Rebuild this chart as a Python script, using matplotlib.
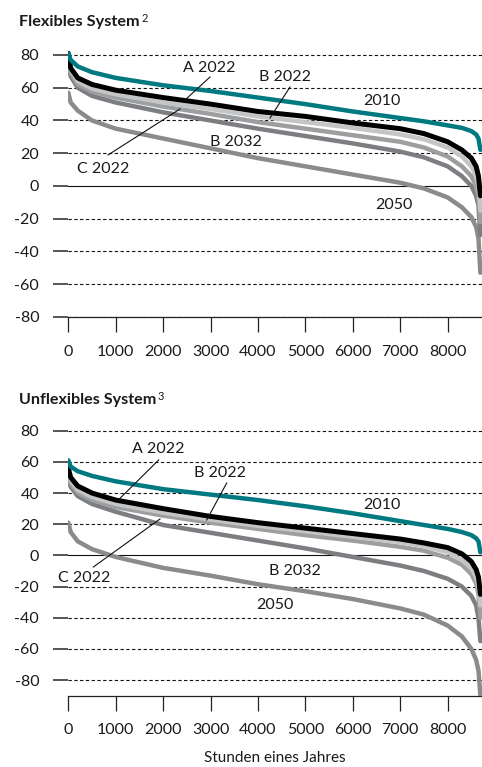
import matplotlib
matplotlib.use("Agg")
import matplotlib.pyplot as plt

plt.rcParams['font.family'] = ['Lato', 'DejaVu Sans']

# ---- data ----
hours = [0, 50, 200, 500, 1000, 2000, 3000, 4000, 5000, 6000, 7000,
         7500, 8000, 8300, 8500, 8600, 8650, 8690]
series_names = ["2050", "B 2032", "C 2022", "B 2022", "A 2022", "2010"]

# Flexibles System
flex_2010 = [81, 77, 73, 69.5, 66, 61.5, 58, 54, 50, 45.5, 41.5, 39.5, 37, 35.5, 33.5, 31.5, 29, 22]
flex_A2022 = [81, 72, 66, 62, 58.5, 54, 50, 45.5, 42.5, 38.5, 35, 32, 27, 22, 17, 12, 6, -6]
flex_B2022 = [79, 71, 64, 59.5, 56, 51, 47, 42.5, 39, 35.5, 31.5, 28.5, 23.5, 18, 12, 6, 0, -15]
flex_C2022 = [78, 69, 62, 57.5, 54, 48.5, 44, 39, 35, 31, 27, 23.5, 18, 12, 6, 0, -6, -22]
flex_B2032 = [77, 67, 60, 55, 51, 45, 40, 35, 30.5, 26, 21, 17.5, 12, 6, 0, -6, -12, -30]
flex_2050 = [57, 51, 46, 40, 35, 29, 23, 17, 12, 7, 2, -1.5, -7, -13, -19, -25, -32, -53]

# Unflexibles System
unflex_2010 = [61, 57, 54, 51, 47.5, 42.5, 39, 35.5, 31.5, 27, 22, 19.5, 17, 15, 13, 11, 9, 2]
unflex_A2022 = [56, 50, 44.5, 40, 35.5, 30, 25, 21, 17.5, 14, 10.5, 8, 5, 1, -4, -9, -14, -25]
unflex_B2022 = [54, 48, 42, 37.5, 33, 27.5, 23, 19, 15.5, 12, 8.5, 6, 2, -3, -8, -14, -20, -32]
unflex_C2022 = [52, 46, 40, 35.5, 31, 25.5, 21, 17, 13, 9.5, 5.5, 3, -1.5, -6, -12, -18, -25, -40]
unflex_B2032 = [50, 44, 38, 33, 28, 19.5, 14.5, 9.5, 4.5, -1, -6.5, -10, -15, -20, -26, -32, -40, -55]
unflex_2050 = [21, 15, 9, 4, -1, -8, -13, -18.5, -23, -28, -34, -38, -45, -52, -60, -67, -74, -90]

yticks = [80, 60, 40, 20, 0, -20, -40, -60, -80]
xticks = [0, 1000, 2000, 3000, 4000, 5000, 6000, 7000, 8000]

colors = {"2010": "#007a80", "A 2022": "#000000", "B 2022": "#c4c5c7",
          "C 2022": "#9c9ea0", "B 2032": "#7d7e81", "2050": "#8a8b8d"}
widths = {"2010": 3.2, "A 2022": 3.6, "B 2022": 3.2, "C 2022": 3.2, "B 2032": 3.2, "2050": 3.2}

W, H = 482, 767
fig = plt.figure(figsize=(W / 100, H / 100), dpi=100)
renderer = fig.canvas.get_renderer()


def px_axes(x0, x1, ytop, ybot):
    return fig.add_axes([x0 / W, 1 - ybot / H, (x1 - x0) / W, (ybot - ytop) / H])


def style_axes(ax, ylim):
    ax.set_xlim(0, 8724)
    ax.set_ylim(*ylim)
    for s in ["top", "right", "left"]:
        ax.spines[s].set_visible(False)
    ax.spines["bottom"].set_color("#222222")
    ax.spines["bottom"].set_linewidth(0.9)
    ax.set_yticks(yticks)
    ax.set_yticklabels([str(v) for v in yticks])
    ax.set_xticks(xticks)
    ax.set_xticklabels([str(v) for v in xticks])
    ax.tick_params(axis="y", length=11, width=1.4, color="#555555", pad=10,
                   labelsize=11.5, labelcolor="#1a1a1a")
    ax.tick_params(axis="x", length=11, width=0.9, color="#222222", pad=9,
                   labelsize=11.5, labelcolor="#1a1a1a")
    for v in yticks:
        if v == 0:
            ax.axhline(0, color="#111111", lw=0.8, zorder=1)
        else:
            ax.axhline(v, color="#111111", lw=0.8, ls=(0, (3.0, 2.2)), zorder=1)


def draw(ax, data):
    for name in series_names:
        ax.plot(hours, data[name], color=colors[name], lw=widths[name],
                solid_capstyle="round", solid_joinstyle="round", zorder=3)


# ---- top panel ----
ax1 = px_axes(68.3, 482, 46.8, 317)
style_axes(ax1, (-80, 85))
draw(ax1, {"2010": flex_2010, "A 2022": flex_A2022, "B 2022": flex_B2022,
           "C 2022": flex_C2022, "B 2032": flex_B2032, "2050": flex_2050})

# ---- bottom panel ----
ax2 = px_axes(68.3, 482, 422.9, 695.7)
style_axes(ax2, (-90, 85))
draw(ax2, {"2010": unflex_2010, "A 2022": unflex_A2022, "B 2022": unflex_B2022,
           "C 2022": unflex_C2022, "B 2032": unflex_B2032, "2050": unflex_2050})
ax2.set_xlabel("Stunden eines Jahres", fontsize=11, color="#1a1a1a", labelpad=10)


def title(text, sup, x, ycenter, target_w):
    t = fig.text(x / W, 1 - ycenter / H, text, fontsize=11, fontweight="bold",
                 va="center", ha="left", color="#1a1a1a")
    w = t.get_window_extent(renderer).width
    t.set_fontsize(11 * target_w / w)
    bb = t.get_window_extent(renderer)
    fig.text((bb.x1 + 1.5) / W, (bb.y1 + 1.5) / H, sup, fontsize=8,
             va="top", ha="left", color="#1a1a1a")


title("Flexibles System", "2", 19, 21.7, 120)
title("Unflexibles System", "3", 19, 400, 137)


def to_data(ax, x, y):
    disp = fig.transFigure.transform((x / W, 1 - y / H))
    return ax.transData.inverted().transform(disp)


def label(ax, text, x, y):
    dx, dy = to_data(ax, x, y)
    ax.text(dx, dy, text, fontsize=11.5, ha="center", va="center", color="#1a1a1a", zorder=5)


def leader(ax, x0, y0, x1, y1):
    a = to_data(ax, x0, y0)
    b = to_data(ax, x1, y1)
    ax.plot([a[0], b[0]], [a[1], b[1]], color="#111111", lw=0.8, zorder=4)


# top labels
label(ax1, "A 2022", 209, 68)
leader(ax1, 210, 77, 185, 100)
label(ax1, "B 2022", 285, 77)
leader(ax1, 290, 87, 270, 118)
label(ax1, "2010", 382, 101)
label(ax1, "C 2022", 103, 169)
leader(ax1, 108, 155, 180, 109)
label(ax1, "B 2032", 236, 142)
label(ax1, "2050", 394, 205)

# bottom labels
label(ax2, "A 2022", 158, 449)
leader(ax2, 158.7, 460, 118.3, 500)
label(ax2, "B 2022", 220, 473)
leader(ax2, 226.7, 483, 206.7, 520)
label(ax2, "2010", 382, 505)
label(ax2, "C 2022", 84, 578)
leader(ax2, 93.3, 567, 160, 519)
label(ax2, "B 2032", 295, 571)
label(ax2, "2050", 275, 605)

fig.savefig("out.png", dpi=100)
